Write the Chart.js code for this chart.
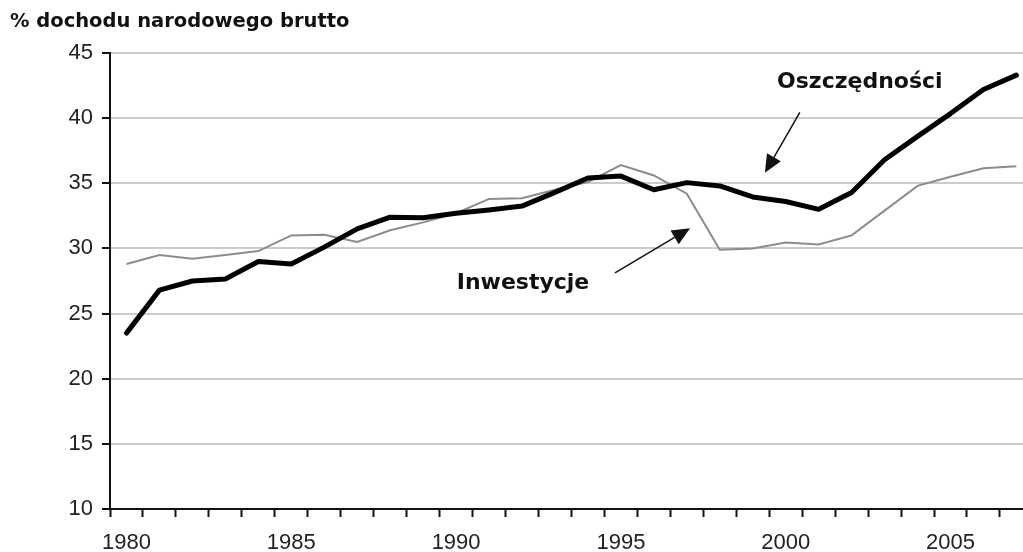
<!DOCTYPE html>
<html>
<head>
<meta charset="utf-8">
<script src="https://cdn.jsdelivr.net/npm/chart.js@4.4.1/dist/chart.umd.min.js"></script>
<style>
  body { margin: 0; background: #fff; }
  canvas { display: block; }
</style>
</head>
<body>
<canvas id="myChart" width="1023" height="552"></canvas>
<script>
const years = [1980, 1981, 1982, 1983, 1984, 1985, 1986, 1987, 1988, 1989,
  1990, 1991, 1992, 1993, 1994, 1995, 1996, 1997, 1998, 1999,
  2000, 2001, 2002, 2003, 2004, 2005, 2006, 2007];
// Oszczędności (savings) - thick black line
const savings = [23.5, 26.8, 27.5, 27.65, 29.0, 28.8, 30.1, 31.5, 32.4, 32.35,
  32.7, 32.95, 33.25, 34.3, 35.4, 35.55, 34.5, 35.05, 34.8, 33.95,
  33.6, 33.0, 34.3, 36.8, 38.6, 40.35, 42.2, 43.3];
// Inwestycje (investment) - thin grey line
const investment = [28.8, 29.5, 29.2, 29.5, 29.8, 31.0, 31.05, 30.5, 31.4, 32.0,
  32.7, 33.8, 33.85, 34.5, 35.1, 36.4, 35.6, 34.2, 29.9, 30.0,
  30.45, 30.3, 31.0, 32.9, 34.8, 35.5, 36.15, 36.3];
const yTicks = [10, 15, 20, 25, 30, 35, 40, 45];
const labelYears = [1980, 1985, 1990, 1995, 2000, 2005];

const title = '% dochodu narodowego brutto';
// annotations in data units: text position, arrow start, arrow tip
const notes = [
  { text: 'Oszczędności', at: [2002.25, 42.75], from: [2000.43, 40.45], to: [1999.37, 35.8] },
  { text: 'Inwestycje', at: [1992.03, 27.35], from: [1994.82, 28.12], to: [1997.1, 31.55] }
];

const toPoints = vals => years.map((yr, i) => ({ x: yr, y: vals[i] }));

const annotate = {
  id: 'annotate',
  afterDraw(chart) {
    const ctx = chart.ctx;
    const xs = chart.scales.x, ys = chart.scales.y;
    ctx.save();
    ctx.fillStyle = '#111';
    ctx.font = 'bold 19.5px "DejaVu Sans"';
    ctx.textAlign = 'left';
    ctx.textBaseline = 'middle';
    ctx.fillText(title, 10, 22);

    ctx.font = 'bold 22px "DejaVu Sans"';
    ctx.textAlign = 'center';
    notes.forEach(n => {
      ctx.fillStyle = '#111';
      ctx.fillText(n.text, xs.getPixelForValue(n.at[0]), ys.getPixelForValue(n.at[1]));
      const x1 = xs.getPixelForValue(n.from[0]), y1 = ys.getPixelForValue(n.from[1]);
      const x2 = xs.getPixelForValue(n.to[0]), y2 = ys.getPixelForValue(n.to[1]);
      const ang = Math.atan2(y2 - y1, x2 - x1);
      const head = 18, wid = 8;
      const bx = x2 - head * Math.cos(ang), by = y2 - head * Math.sin(ang);
      ctx.strokeStyle = '#111';
      ctx.lineWidth = 1.5;
      ctx.beginPath();
      ctx.moveTo(x1, y1);
      ctx.lineTo(bx, by);
      ctx.stroke();
      ctx.beginPath();
      ctx.moveTo(x2, y2);
      ctx.lineTo(bx + wid * Math.sin(ang), by - wid * Math.cos(ang));
      ctx.lineTo(bx - wid * Math.sin(ang), by + wid * Math.cos(ang));
      ctx.closePath();
      ctx.fill();
    });
    ctx.restore();
  }
};

new Chart(document.getElementById('myChart'), {
  type: 'line',
  data: {
    datasets: [
      {
        label: 'Oszczędności',
        data: toPoints(savings),
        borderColor: '#000',
        borderWidth: 5,
        pointRadius: 0,
        tension: 0,
        borderJoinStyle: 'round',
        borderCapStyle: 'round'
      },
      {
        label: 'Inwestycje',
        data: toPoints(investment),
        borderColor: '#8c8c8c',
        borderWidth: 2,
        pointRadius: 0,
        tension: 0
      }
    ]
  },
  options: {
    responsive: false,
    animation: false,
    layout: { padding: { top: 53, left: 0, right: 0, bottom: 0 } },
    plugins: { legend: { display: false }, tooltip: { enabled: false } },
    scales: {
      x: {
        type: 'linear',
        min: 1979.5,
        max: 2007.2,
        afterBuildTicks(scale) {
          const t = [];
          for (let v = 1979.5; v < 2007.2; v++) t.push({ value: v });
          scale.ticks = t;
        },
        afterFit(scale) { scale.height = 43; },
        grid: {
          drawOnChartArea: false,
          drawTicks: true,
          tickLength: 8,
          tickColor: '#111',
          tickWidth: 2
        },
        border: { color: '#111', width: 2 },
        ticks: {
          autoSkip: false,
          maxRotation: 0,
          labelOffset: 16.5,
          padding: 13,
          color: '#222',
          font: { family: '"Liberation Sans", Arial', size: 22 },
          callback: v => labelYears.includes(v + 0.5) ? String(v + 0.5) : ''
        }
      },
      y: {
        min: 10,
        max: 45,
        afterBuildTicks(scale) { scale.ticks = yTicks.map(v => ({ value: v })); },
        afterFit(scale) { scale.width = 110; },
        grid: {
          color: '#cccccc',
          lineWidth: 2,
          tickLength: 8,
          tickColor: '#111',
          tickWidth: 2
        },
        border: { color: '#111', width: 2 },
        ticks: {
          padding: 9,
          color: '#222',
          font: { family: '"Liberation Sans", Arial', size: 22 }
        }
      }
    }
  },
  plugins: [annotate]
});
</script>
</body>
</html>
